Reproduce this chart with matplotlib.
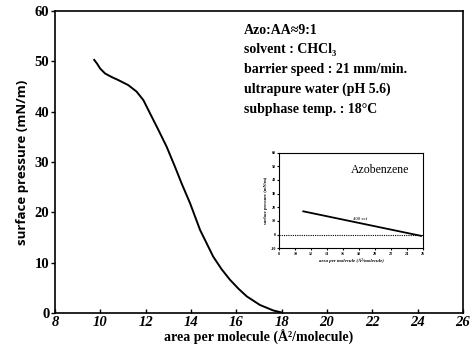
import matplotlib
matplotlib.use("Agg")
import matplotlib.pyplot as plt

# Main isotherm (Azo:AA = 9:1)
area = [9.73, 9.85, 9.99, 10.21, 10.5, 10.79, 11.23, 11.6, 11.9, 12.19, 12.56,
        12.93, 13.29, 13.6, 13.96, 14.4, 14.98, 15.35, 15.72, 16.1, 16.46,
        17.04, 17.63, 18.0]
pressure = [50.3, 49.6, 48.6, 47.6, 46.9, 46.3, 45.3, 44.0, 42.3, 39.7, 36.4,
            33.0, 29.1, 25.6, 21.8, 16.5, 11.2, 8.7, 6.6, 4.8, 3.3,
            1.6, 0.5, 0.1]

x_ticks = [8, 10, 12, 14, 16, 18, 20, 22, 24, 26]
y_ticks = [0, 10, 20, 30, 40, 50, 60]

# Inset (Azobenzene)
inset_area = [11.0, 25.8]
inset_pressure = [17.0, -1.0]
inset_zero_x = [8, 26]
inset_zero_y = [0, 0]
inset_x_ticks = [8, 10, 12, 14, 16, 18, 20, 22, 24, 26]
inset_y_ticks = [-10, 0, 10, 20, 30, 40, 50, 60]

info_lines = ["Azo:AA\u22489:1", "solvent : CHCl\u2083", "barrier speed : 21 mm/min.",
              "ultrapure water (pH 5.6)", "subphase temp. : 18\u00b0C"]

serif = ["Liberation Serif", "DejaVu Serif"]

fig = plt.figure(figsize=(4.72, 3.56), dpi=100)
ax = fig.add_axes([0.1165, 0.1208, 0.8645, 0.848])
ax.plot(area, pressure, color="black", lw=1.4)
ax.set_xlim(8, 26)
ax.set_ylim(0, 60)
ax.set_xticks(x_ticks)
ax.set_yticks(y_ticks)
ax.set_xticklabels([str(t) for t in x_ticks], family=serif, weight="bold",
                   style="italic", fontsize=10.5)
ax.set_yticklabels([str(t) for t in y_ticks], family=serif, weight="bold", fontsize=10.5)
ax.tick_params(axis="x", direction="in", length=3, width=1, pad=2)
ax.tick_params(axis="y", direction="out", length=3, width=1, pad=1)
for s in ax.spines.values():
    s.set_linewidth(1.2)
ax.set_xlabel("area per molecule (\u00c5\u00b2/molecule)", family=serif, weight="bold",
              fontsize=10, labelpad=1)
ax.set_ylabel("surface pressure (mN/m)", family=["Open Sans", "DejaVu Sans"],
              weight="bold", fontsize=9.5, labelpad=4)

for i, line in enumerate(info_lines):
    fig.text(244 / 472, 1 - (30 + i * 19.8) / 356, line, family=serif, weight="bold",
             fontsize=10, va="center", ha="left")

# Inset
ins = fig.add_axes([0.592, 0.303, 0.3035, 0.268])
ins.plot(inset_area, inset_pressure, color="black", lw=1.3)
ins.plot(inset_zero_x, inset_zero_y, color="black", lw=0.8, ls=(0, (1, 1)))
ins.set_xlim(8, 26)
ins.set_ylim(-10, 60)
ins.set_xticks(inset_x_ticks)
ins.set_yticks(inset_y_ticks)
ins.set_xticklabels([str(t) for t in inset_x_ticks], family=serif, weight="bold", fontsize=3)
ins.set_yticklabels([str(t) for t in inset_y_ticks], family=serif, weight="bold", fontsize=3)
ins.tick_params(axis="both", direction="out", length=1.5, width=0.8, pad=1)
for s in ins.spines.values():
    s.set_linewidth(0.8)
ins.set_xlabel("area per molecule (\u00c5\u00b2/molecule)", family=serif, weight="bold",
               style="italic", fontsize=3.5, labelpad=1.5)
ins.set_ylabel("surface pressure (mN/m)", family=serif, weight="bold", fontsize=3.2,
               labelpad=1.5)
ins.text(0.5, 0.82, "Azobenzene", transform=ins.transAxes, family=serif, fontsize=8.5,
         ha="left", va="center")
ins.text(17.2, 11.5, "400 sef", family=serif, fontsize=3.5, ha="left", va="center")

fig.savefig("out.png", dpi=100)
